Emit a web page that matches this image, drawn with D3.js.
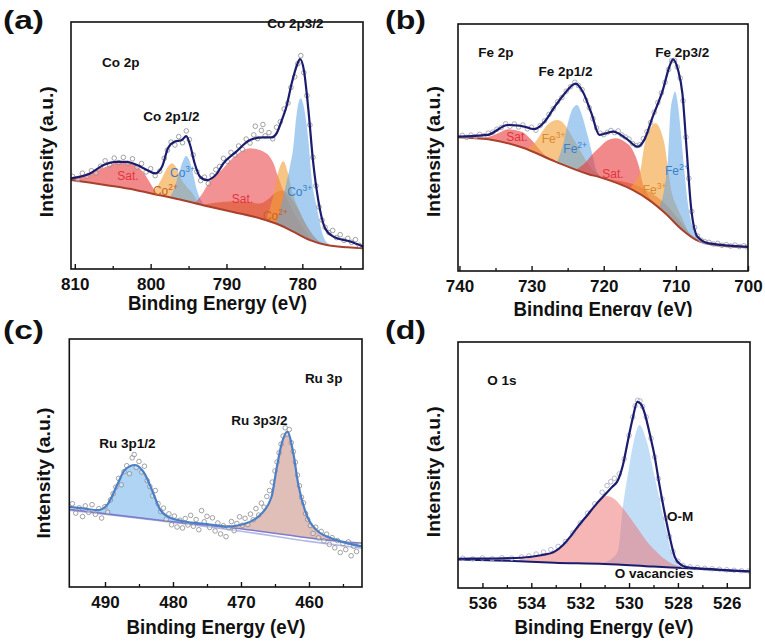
<!DOCTYPE html>
<html>
<head>
<meta charset="utf-8">
<script src="https://cdn.jsdelivr.net/npm/d3@7"></script>
<style>
  body { margin: 0; background: #fff; }
  svg { display: block; font-family: "Liberation Sans", Arial, sans-serif; }
</style>
</head>
<body>
<svg id="chart" width="765" height="641"></svg>
<script>
// ---- (a) Co 2p : [binding energy eV, intensity a.u.]
const envA = [[810.5,36.7],[808,38.7],[806.2,42.1],[804.5,43.4],[803.2,43.4],[801.8,42.1],[800.5,40.1],[799.4,38.7],[798.5,41.4],[797.7,49],[796.8,51.6],[795.9,52.2],[795.3,53.8],[794.8,50.2],[794.2,42.8],[793.5,37.4],[792.6,36],[791.3,38.5],[790.4,42.8],[788.7,47.5],[786.9,52.2],[785.1,53.3],[784.0,53.3],[783.4,54.9],[782.7,60.3],[782.1,65.7],[781.4,75.2],[780.7,82.6],[780.3,85],[779.8,80.6],[779.2,64.4],[778.6,44.1],[777.9,27.9],[777.0,16.5],[775.9,13.1],[773.7,11.1],[772,9.1]];
const bgA = [[810.5,36],[806,34],[802,32],[799.9,30.6],[796,28],[792.2,25.2],[789,23],[785.6,20.5],[783,17.8],[781.2,15.1],[779,11.7],[776.8,9.7],[774,8.8],[772,8.4]];
const satA1 = [[811,37],[808.5,38.5],[806.2,41],[804.5,43],[803.4,43.5],[802,42],[800.8,38.5],[800,34.5],[799.3,31],[798.5,29]];
const co2A1 = [[800,30],[799.2,33],[798.4,37.5],[797.7,41.5],[797.2,42.8],[796.6,41],[796,36.7],[795.3,33.4],[794.5,30.7],[793.8,27]];
const co3A1 = [[797.6,28.5],[796.9,32.5],[796.3,38.5],[795.7,44],[795.3,45.7],[794.9,44],[794.4,38.5],[793.9,32],[793.3,27.5],[792.6,25]];
const satA2 = [[794.2,26.5],[793.3,30],[792.2,35.4],[790.4,40.9],[788.7,46.3],[786.9,48.9],[785.1,47.5],[783.8,42.8],[783.2,37.4],[782.4,31],[781.4,24.5],[780.3,18.5],[779.3,14],[778.3,11.2],[777.5,10]];
const baseA = [[794,25.5],[791.5,26.8],[789.5,27.3],[787.5,27.2],[785.6,26.5],[784.4,28.5],[783.6,30.8],[782.6,31.8],[781.6,29.2],[780.6,24.5],[779.6,18.5],[778.6,13.8],[777.6,10.8],[776.8,9.9]];
const co2A2 = [[784.6,21.5],[783.8,30],[783.2,38.9],[782.5,43.6],[781.9,38.9],[781.4,32.1],[780.8,26.5],[780,21],[779,15],[778,11.5],[777.2,10]];
const co3A2 = [[784,17],[783.2,21],[782.6,28],[782.1,35],[781.6,42],[781.2,49],[780.8,61.5],[780.5,67.3],[780.2,69.1],[779.9,67],[779.6,62],[779.2,52],[778.8,37.5],[778.1,25.2],[777.2,13],[776.5,10.2]];
const dotsA = [[810.3,37.5],[809.6,36.2],[809.0,38.8],[808.4,37.6],[807.8,39.8],[807.2,38.9],[806.6,41.6],[806.0,43.8],[805.4,42.2],[804.8,44.9],[804.2,43.1],[803.6,45.2],[803.0,42.8],[802.4,44.6],[801.8,41.2],[801.2,42.7],[800.6,39.3],[800.0,40.6],[799.4,37.8],[798.8,39.6],[798.2,44.8],[797.8,48.1],[797.3,51.4],[796.8,50.2],[796.3,53.6],[795.8,51.1],[795.3,55.9],[794.9,52.4],[794.4,46.2],[793.9,39.4],[793.4,35.8],[792.9,37.2],[792.4,34.6],[791.9,37.9],[791.4,40.2],[790.9,41.5],[790.4,44.8],[789.9,43.6],[789.4,47.2],[788.9,46.1],[788.4,49.8],[787.9,48.4],[787.4,52.6],[786.9,51.0],[786.4,54.3],[786.2,57.8],[785.9,52.8],[785.4,56.1],[785.2,58.5],[784.9,53.9],[784.4,55.2],[783.9,52.7],[783.4,57.4],[782.9,59.6],[782.4,64.8],[781.9,67.2],[781.5,73.5],[781.0,77.8],[780.6,83.1],[780.2,86.4],[779.8,79.5],[779.4,70.2],[779.0,58.3],[778.6,45.2],[778.2,33.7],[777.8,25.1],[777.4,19.8],[777.0,16.9],[776.5,14.8],[776.0,15.6],[775.5,12.7],[775.0,13.9],[774.5,11.6],[774.0,12.4],[773.5,10.8],[773.0,11.9],[772.5,9.6]];
const ticksA = [810, 800, 790, 780];
const minorA = [805, 795, 785, 775];
const titlesA = [["Co 2p", 806.4, 81.8, "start"], ["Co 2p3/2", 780.9, 97.6, "middle"], ["Co 2p1/2", 797.25, 59.9, "middle"]];
const tagsA = [["Sat.", "", 804.4, 36, "sat"], ["Co", "2+", 799.7, 30, "co2"], ["Co", "3+", 797.45, 37.2, "co3"], ["Sat.", "", 789.3, 26.7, "sat"], ["Co", "2+", 785.2, 19.8, "co2"], ["Co", "3+", 782.0, 29.6, "co3"]];

// ---- (b) Fe 2p
const envB = [[740.2,54.4],[736.1,55.1],[733.3,59.1],[731.4,58.7],[729.6,57.4],[728.2,60.4],[726.8,66.5],[725.4,71.9],[723.9,75.9],[722.9,72.6],[721.7,63.8],[720.6,55.1],[718.75,56.4],[716.9,53.7],[715.3,50.3],[714.4,53],[713.2,62.5],[711.8,73.3],[710.9,82.7],[710.4,85.7],[709.7,81.4],[709.1,72],[708.5,49],[707.9,26],[707,13.9],[705.4,11.2],[700,9.8]];
const bgB = [[740.2,54.2],[736,53.3],[731.3,50],[726.7,44.3],[722.1,39.2],[720.6,38],[716,32.8],[713.7,28.7],[711.4,23.2],[709.1,16.6],[707.2,12.6],[704.4,10.4],[700,9.6]];
const satB1 = [[740.5,54.2],[738,54],[736.1,54.3],[734.5,56],[733.3,57.4],[731.4,56.4],[730,53],[729,49.5],[728,46.3]];
const fe3B1 = [[730.8,49],[729.4,52.5],[728.2,57.8],[727.2,60.5],[726.4,61.1],[725.5,59.5],[724.5,55],[723.5,50],[722.5,45],[721.5,41],[720.5,38.5]];
const fe2B1 = [[726.4,44.5],[725.6,51.5],[725,59.5],[724.4,65.2],[723.7,67.2],[723,63],[722.3,55.7],[721.5,46.3],[721,40.5],[720.3,38]];
const satB2 = [[723.8,41],[722.5,44],[721.5,47.5],[720.6,50],[719.5,52.8],[718.3,53.7],[717.2,52.5],[716,49],[715.1,42.2],[714.6,35.5],[713.8,30.5],[712.8,27],[711.5,23]];
const baseB = [[722,39],[719,37],[716,35.2],[714,32.6],[712.5,29.8],[711,25.8],[709.5,20.5],[708,15],[706.8,12]];
const fe3B2 = [[716.5,33],[715.5,37],[714.9,41],[714.4,50.3],[713.6,57.5],[712.8,59.8],[712,56],[711.6,51.7],[711.1,42],[710.7,33.5],[710,27],[709,20.5],[708.1,15],[707,11.8]];
const fe2B2 = [[712.5,25],[711.5,35],[711.1,45],[710.8,62.5],[710.4,70.5],[710.1,72.6],[709.7,67],[709.3,55.7],[708.8,40],[708.4,28.7],[707.8,19],[707.2,13.9],[706.5,11.2]];
const dotsB = [[739.6,54.9],[739.0,54.1],[738.4,55.0],[737.8,54.4],[737.2,55.3],[736.6,54.8],[736.0,55.8],[735.4,56.2],[734.8,57.4],[734.2,58.1],[733.6,59.6],[733.0,58.6],[732.4,59.5],[731.8,58.3],[731.2,59.1],[730.6,57.6],[730.0,58.2],[729.4,57.0],[728.8,58.9],[728.2,60.8],[727.6,63.4],[727.0,65.7],[726.4,68.5],[725.8,70.2],[725.2,72.8],[724.6,74.6],[724.0,76.4],[723.5,75.1],[723.0,73.4],[722.5,69.2],[722.0,66.1],[721.5,61.7],[721.0,57.9],[720.5,55.8],[720.0,55.2],[719.5,56.1],[719.0,56.9],[718.5,56.0],[718.0,56.7],[717.5,55.1],[717.0,54.2],[716.5,53.4],[716.0,51.6],[715.5,50.8],[715.0,51.1],[714.5,53.6],[714.0,56.4],[713.5,60.1],[713.0,64.3],[712.5,68.2],[712.0,72.1],[711.5,76.4],[711.0,81.6],[710.6,85.1],[710.2,85.3],[709.8,82.6],[709.4,78.1],[709.0,68.9],[708.6,54.2],[708.2,37.5],[707.8,24.1],[707.4,17.6],[707.0,14.2],[706.5,12.5],[706.0,11.9],[705.4,11.6],[704.8,10.9],[704.2,11.2],[703.6,10.4],[703.0,10.7],[702.4,10.1],[701.8,10.5],[701.2,9.9],[700.6,10.2],[700.1,9.7]];
const ticksB = [740, 730, 720, 710, 700];
const minorB = [735, 725, 715, 705];
const titlesB = [["Fe 2p", 737.4, 86.6, "start"], ["Fe 2p1/2", 725.3, 78.9, "middle"], ["Fe 2p3/2", 709.1, 86.6, "middle"]];
const tagsB = [["Sat.", "", 733.5, 52.6, "sat"], ["Fe", "3+", 728.6, 51.8, "fe3"], ["Fe", "2+", 725.6, 47.8, "fe2"], ["Sat.", "", 720.2, 37.7, "sat"], ["Fe", "3+", 714.6, 31.2, "fe3"], ["Fe", "2+", 711.5, 38.9, "fe2"]];

// ---- (c) Ru 3p
const envC = [[495.25,32.3],[493,31.6],[491,31],[489.6,33.4],[488.1,41.8],[487.1,47.2],[485.6,49.2],[484.2,45.8],[482.9,37.8],[482,31.7],[480.7,28.3],[478.3,26.4],[475,25.4],[472,24.4],[469.7,25.3],[467.2,29],[465.5,36.4],[464.8,47.2],[464,57.9],[463.2,62.6],[462.3,53.9],[461.6,41.8],[460.6,31],[458.9,23],[456,19],[452.2,16.4]];
const bgC = [[495.25,31.3],[481,26.6],[468.7,23],[458.9,19.4],[452.2,17.6]];
const bgC2 = [[495.25,31],[470,22.5],[460,18.4],[452.2,15.6]];
const ruC1 = [[491.5,30.6],[490.5,31.1],[489.6,33.4],[488.1,41.8],[487.1,47.2],[485.6,49.2],[484.2,45.8],[482.9,37.8],[482,31.7],[480.7,28.3],[479.5,26.9],[478.5,26.2]];
const ruC2 = [[475,25.4],[472,24.4],[469.7,25.3],[467.2,29],[465.5,36.4],[464.8,47.2],[464,57.9],[463.2,62.6],[462.3,53.9],[461.6,41.8],[460.6,31],[458.9,23],[456,19],[452.2,16.4]];
const dotsC = [[494.8,33.6],[494.3,29.8],[493.8,31.9],[493.3,28.4],[492.9,32.7],[492.4,30.1],[491.9,33.2],[491.4,29.3],[490.9,31.6],[490.5,27.8],[490.0,32.4],[489.6,30.2],[489.2,35.1],[488.8,37.6],[488.4,40.3],[488.0,43.8],[487.6,41.2],[487.2,46.5],[486.8,48.9],[486.4,45.7],[486.0,52.1],[485.7,53.4],[485.4,48.2],[485.0,50.6],[484.6,46.3],[484.2,48.7],[483.8,42.9],[483.4,40.5],[483.0,36.8],[482.6,38.9],[482.2,33.6],[481.8,30.4],[481.4,31.8],[481.0,27.3],[480.6,29.5],[480.2,25.1],[479.8,28.6],[479.4,24.2],[479.0,26.9],[478.6,23.8],[478.2,27.6],[477.8,25.0],[477.4,28.9],[477.0,24.5],[476.6,27.2],[476.2,23.1],[475.8,30.8],[475.4,26.3],[475.0,28.5],[474.6,24.0],[474.2,27.9],[473.8,22.6],[473.4,25.8],[473.0,21.4],[472.6,24.7],[472.2,20.3],[471.8,23.9],[471.4,26.4],[471.0,22.7],[470.6,25.6],[470.2,28.3],[469.8,24.9],[469.4,27.7],[469.0,25.2],[468.6,29.4],[468.2,27.1],[467.8,31.6],[467.4,29.0],[467.0,33.8],[466.6,32.2],[466.2,36.5],[465.8,38.9],[465.4,42.3],[465.0,46.8],[464.7,50.4],[464.4,54.1],[464.1,57.6],[463.8,60.9],[463.5,64.2],[463.2,61.7],[462.9,63.5],[462.6,58.2],[462.3,54.6],[462.0,50.3],[461.7,45.1],[461.4,40.8],[461.1,36.2],[460.8,33.9],[460.5,29.6],[460.2,27.3],[459.8,24.8],[459.4,21.6],[459.0,24.1],[458.6,19.8],[458.2,22.4],[457.8,18.6],[457.4,21.3],[457.0,17.2],[456.6,19.9],[456.2,15.8],[455.8,18.7],[455.4,13.9],[455.0,17.5],[454.6,15.1],[454.2,18.2],[453.8,12.6],[453.4,16.4],[453.0,14.3],[452.6,17.1]];
const ticksC = [490, 480, 470, 460];
const minorC = [485, 475, 465, 455];
const titlesC = [["Ru 3p", 460.6, 82.3, "start"], ["Ru 3p3/2", 467.3, 65.3, "middle"], ["Ru 3p1/2", 486.7, 56.0, "middle"]];

// ---- (d) O 1s
const envD = [[537,11.9],[535.5,12],[534.4,12.3],[533.6,13.3],[533.05,14.8],[532.7,17.5],[532.4,20.9],[532.05,25.5],[531.7,29.7],[531.35,34],[531,37.8],[530.7,41],[530.45,43.9],[530.25,50],[530.04,60.2],[529.85,69],[529.66,75.7],[529.5,74.5],[529.36,71],[529.15,62.5],[528.95,53.4],[528.75,41.5],[528.54,30.4],[528.33,20.5],[528.13,12.7],[527.9,9.6],[527.6,8.4],[526.5,7.6],[525.05,6.8]];
const bgD = [[537,11.6],[535,11.1],[533.05,10.3],[531,9.8],[529,8.7],[527.6,8],[525.05,6.6]];
const ovacD = [[534.5,11.5],[533.6,13],[533.05,14.8],[532.4,20.9],[531.7,29.7],[531.3,35],[530.93,37.4],[530.6,36.2],[530.3,33],[529.95,28.5],[529.6,23.6],[529.3,19.3],[528.95,15.4],[528.6,12.2],[528.26,10],[527.8,8.5]];
const omD = [[531.2,10],[530.7,12],[530.45,15.4],[530.25,33],[530.04,46.6],[529.8,60],[529.57,66.3],[529.3,60.5],[528.95,45.2],[528.54,26.3],[528.2,12.7],[527.86,8.7]];
const dotsD = [[536.8,12.1],[536.4,11.8],[536.0,12.2],[535.6,11.9],[535.2,12.3],[534.8,12.1],[534.4,12.6],[534.1,13.0],[533.8,13.8],[533.5,14.6],[533.2,15.6],[532.9,16.9],[532.6,18.9],[532.3,22.4],[532.0,26.4],[531.7,30.4],[531.4,34.2],[531.1,38.9],[530.9,41.6],[530.75,43.2],[530.6,44.6],[530.4,46.4],[530.2,52.5],[530.0,62.0],[529.85,69.5],[529.75,74.0],[529.65,76.3],[529.55,76.0],[529.45,73.8],[529.3,69.5],[529.1,60.8],[528.95,53.2],[528.8,44.5],[528.65,36.2],[528.5,28.4],[528.35,20.9],[528.2,14.8],[528.0,10.9],[527.8,9.2],[527.5,8.6],[527.2,8.3],[526.9,8.0],[526.6,7.8],[526.3,7.6],[526.0,7.4],[525.7,7.2],[525.4,7.0],[525.1,6.9]];
const ticksD = [536, 534, 532, 530, 528, 526];
const minorD = [535, 533, 531, 529, 527];
const titlesD = [["O 1s", 535.8, 82.5, "start"], ["O-M", 528.45, 27.2, "start"], ["O vacancies", 528.97, 4.1, "middle"]];

const tagColor = { sat: "#e3343b", co2: "#c5621f", co3: "#3a80c6", fe3: "#d98a2c", fe2: "#3a80c6" };
const FONT = '"Liberation Sans", Arial, sans-serif';
const NAVY = "#1b1c6e";

const panels = [
  { id: "a", letter: "(a)", xDomain: [810.5, 772], left: 71, right: 363, top: 22, bottom: 269,
    envelope: envA, envColor: NAVY, ticks: ticksA, minor: minorA, titles: titlesA, tags: tagsA,
    background: bgA, bgLines: [{ points: bgA, color: "#a8402c", width: 2 }],
    components: [
      { points: satA1, color: "#e8383c", opacity: 0.6 },
      { points: co2A1, color: "#f2a23a", opacity: 0.62 },
      { points: co3A1, color: "#5ea6e6", opacity: 0.55 },
      { points: satA2, color: "#e8383c", opacity: 0.55 },
      { points: baseA, color: "#dd4a1e", opacity: 0.55 },
      { points: co2A2, color: "#f2a23a", opacity: 0.62 },
      { points: co3A2, color: "#5ea6e6", opacity: 0.55 }],
    dots: dotsA, dotColor: "#8a8a8a",
    letterPos: [3, 29], xTitle: [217.5, 310], yTitle: [53, 151.7] },
  { id: "b", letter: "(b)", xDomain: [740.2, 700], left: 458, right: 748, top: 24, bottom: 271,
    envelope: envB, envColor: NAVY, ticks: ticksB, minor: minorB, titles: titlesB, tags: tagsB,
    background: bgB, bgLines: [{ points: bgB, color: "#a8402c", width: 2 }],
    components: [
      { points: satB1, color: "#e8383c", opacity: 0.6 },
      { points: fe3B1, color: "#f2a23a", opacity: 0.62 },
      { points: fe2B1, color: "#5ea6e6", opacity: 0.55 },
      { points: satB2, color: "#e8383c", opacity: 0.6 },
      { points: baseB, color: "#dd4a1e", opacity: 0.55 },
      { points: fe3B2, color: "#f2a23a", opacity: 0.62 },
      { points: fe2B2, color: "#5ea6e6", opacity: 0.55 }],
    dots: dotsB, dotColor: "#9a9aa6",
    letterPos: [385, 29], xTitle: [603, 316], xTitleClip: 317, yTitle: [440, 151.5] },
  { id: "c", letter: "(c)", xDomain: [495.25, 452.2], left: 69.3, right: 362, top: 339, bottom: 587,
    envelope: envC, envColor: "#4d7fc6", ticks: ticksC, minor: minorC, titles: titlesC, tags: [],
    background: bgC, bgLines: [{ points: bgC2, color: "#b4b8e6", width: 1.6 }, { points: bgC, color: "#7c7ccb", width: 1.6 }],
    components: [
      { points: ruC1, color: "#8ec3ef", opacity: 0.7 },
      { points: ruC2, color: "#c98b80", opacity: 0.55 }],
    dots: dotsC, dotColor: "#8a8a8a",
    letterPos: [3, 339], xTitle: [216, 634], yTitle: [50, 473] },
  { id: "d", letter: "(d)", xDomain: [537, 525.05], left: 458, right: 750, top: 342, bottom: 588,
    envelope: envD, envColor: NAVY, ticks: ticksD, minor: minorD, titles: titlesD, tags: [],
    background: bgD, bgLines: [{ points: bgD, color: NAVY, width: 2 }],
    components: [
      { points: omD, color: "#8ec3ef", opacity: 0.55 },
      { points: ovacD, color: "#ee6e6e", opacity: 0.5 }],
    dots: dotsD, dotColor: "#a8a6c4",
    letterPos: [385, 339], xTitle: [604, 634], yTitle: [440, 471.7] }
];

const svg = d3.select("#chart");

function drawPanel(p) {
  const g = svg.append("g").attr("class", "panel-" + p.id);
  const x = d3.scaleLinear().domain(p.xDomain).range([p.left, p.right]);
  const y = d3.scaleLinear().domain([0, 100]).range([p.bottom, p.top]);

  const defs = g.append("defs");
  defs.append("clipPath").attr("id", "frame-" + p.id)
    .append("rect")
    .attr("x", p.left).attr("y", p.top)
    .attr("width", p.right - p.left).attr("height", p.bottom - p.top);
  // region above the fitted background: the peaks only show there
  defs.append("clipPath").attr("id", "above-" + p.id)
    .append("path")
    .attr("d", d3.area().x((d) => x(d[0])).y0(p.top).y1((d) => y(d[1])).curve(d3.curveMonotoneX)(p.background));

  const plot = g.append("g").attr("clip-path", `url(#frame-${p.id})`);
  const area = d3.area().x((d) => x(d[0])).y0(p.bottom).y1((d) => y(d[1])).curve(d3.curveMonotoneX);
  const line = d3.line().x((d) => x(d[0])).y((d) => y(d[1])).curve(d3.curveMonotoneX);

  plot.append("g").attr("clip-path", `url(#above-${p.id})`)
    .selectAll("path")
    .data(p.components)
    .join("path")
    .attr("d", (c) => area(c.points))
    .attr("fill", (c) => c.color)
    .attr("fill-opacity", (c) => c.opacity);

  p.bgLines.forEach((b) => {
    plot.append("path").attr("d", line(b.points))
      .attr("fill", "none").attr("stroke", b.color).attr("stroke-width", b.width);
  });

  plot.append("g").selectAll("circle")
    .data(p.dots)
    .join("circle")
    .attr("cx", (d) => x(d[0]))
    .attr("cy", (d) => y(d[1]))
    .attr("r", 2.3)
    .attr("fill", "rgba(255,255,255,0.35)")
    .attr("stroke", p.dotColor)
    .attr("stroke-width", 0.8);

  plot.append("path").attr("d", line(p.envelope))
    .attr("fill", "none").attr("stroke", p.envColor).attr("stroke-width", 2.2);

  // axes: ticks point inward
  const major = g.append("g").attr("transform", `translate(0,${p.bottom})`)
    .call(d3.axisBottom(x).tickValues(p.ticks).tickSize(-5).tickPadding(8.5).tickFormat(d3.format("d")));
  major.select(".domain").remove();
  major.attr("font-size", 17).attr("font-weight", "bold").attr("font-family", FONT);
  major.selectAll("text").attr("fill", "#111");
  major.selectAll("line").attr("stroke", "#111").attr("stroke-width", 1.4);

  const minor = g.append("g").attr("transform", `translate(0,${p.bottom})`)
    .call(d3.axisBottom(x).tickValues(p.minor).tickSize(-3).tickFormat(""));
  minor.select(".domain").remove();
  minor.selectAll("line").attr("stroke", "#111").attr("stroke-width", 1.3);

  g.append("rect")
    .attr("x", p.left).attr("y", p.top)
    .attr("width", p.right - p.left).attr("height", p.bottom - p.top)
    .attr("fill", "none").attr("stroke", "#111").attr("stroke-width", 1.6);

  // peak names
  g.selectAll("text.peak")
    .data(p.titles)
    .join("text")
    .attr("class", "peak")
    .attr("x", (d) => x(d[1]))
    .attr("y", (d) => y(d[2]))
    .attr("text-anchor", (d) => d[3])
    .attr("font-size", 13.5)
    .attr("font-weight", "bold")
    .attr("fill", "#111")
    .text((d) => d[0]);

  // component tags with superscript charge
  const tags = g.selectAll("text.tag")
    .data(p.tags)
    .join("text")
    .attr("class", "tag")
    .attr("x", (d) => x(d[2]))
    .attr("y", (d) => y(d[3]))
    .attr("font-size", 12)
    .attr("fill", (d) => tagColor[d[4]]);
  tags.append("tspan").text((d) => d[0]);
  tags.filter((d) => d[1]).append("tspan")
    .attr("dy", -5).attr("font-size", 8.5)
    .text((d) => d[1]);

  g.append("text")
    .attr("x", p.letterPos[0]).attr("y", p.letterPos[1])
    .attr("font-size", 25).attr("font-weight", "bold").attr("fill", "#111")
    .attr("textLength", 41).attr("lengthAdjust", "spacingAndGlyphs")
    .text(p.letter);

  const xt = g.append("text")
    .attr("x", p.xTitle[0]).attr("y", p.xTitle[1])
    .attr("text-anchor", "middle")
    .attr("font-size", 20).attr("font-weight", "bold").attr("fill", "#111")
    .attr("textLength", 179).attr("lengthAdjust", "spacingAndGlyphs")
    .text("Binding Energy (eV)");
  if (p.xTitleClip) {
    defs.append("clipPath").attr("id", "title-" + p.id)
      .append("rect").attr("x", p.left - 40).attr("y", p.bottom)
      .attr("width", p.right - p.left + 80).attr("height", p.xTitleClip - p.bottom);
    xt.attr("clip-path", `url(#title-${p.id})`);
  }

  g.append("text")
    .attr("transform", `translate(${p.yTitle[0]},${p.yTitle[1]}) rotate(-90)`)
    .attr("text-anchor", "middle")
    .attr("font-size", 19).attr("font-weight", "bold").attr("fill", "#111")
    .attr("textLength", 131).attr("lengthAdjust", "spacingAndGlyphs")
    .text("Intensity (a.u.)");
}

panels.forEach(drawPanel);
</script>
</body>
</html>
